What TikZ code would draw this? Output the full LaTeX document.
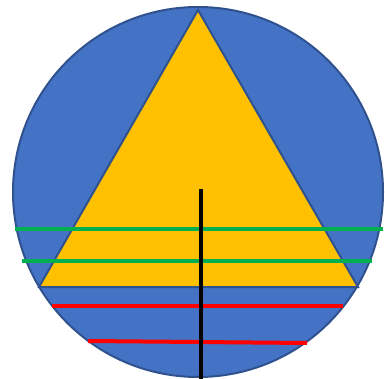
\documentclass[tikz,border=0pt]{standalone}
\usepackage{tikz}

\definecolor{discblue}{HTML}{4472C4}
\definecolor{rimblue}{HTML}{2F528F}
\definecolor{triyellow}{HTML}{FFC000}
\definecolor{linegreen}{HTML}{00B050}
\definecolor{linered}{HTML}{FF0000}

\begin{document}
\begin{tikzpicture}[x=1pt,y=-1pt,
  greenline/.style={linegreen,line width=4pt},
  redline/.style={linered,line width=4pt},
  stem/.style={black,line width=4pt}]
\useasboundingbox (0,0) rectangle (385,379);
% disc and triangle
\filldraw[fill=discblue,draw=rimblue,line width=2pt] (198,192) circle (185);
\coordinate (apex) at (198,10);
\coordinate (bl) at (39,287);
\coordinate (br) at (358,287);
\filldraw[fill=triyellow,draw=rimblue,line width=2pt,line join=miter] (apex) -- (br) -- (bl) -- cycle;
% lines
\draw[greenline] (15,229) -- (383,229);
\draw[greenline] (22,261) -- (372,261);
\draw[redline] (52,306) -- (343,306);
\draw[redline] (88,341) -- (307,343);
\draw[stem] (200.5,189) -- (200.5,379);
\end{tikzpicture}
\end{document}
